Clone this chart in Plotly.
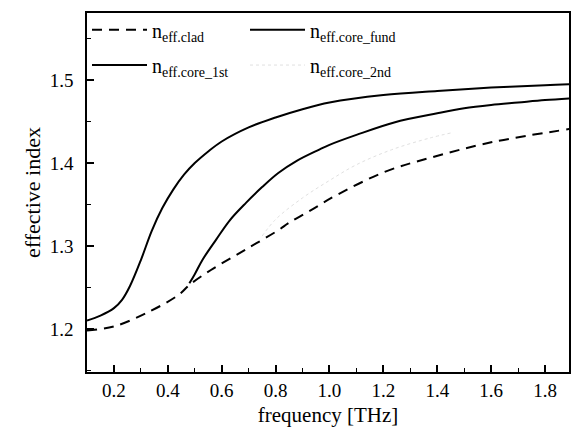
import plotly.graph_objects as go

# Cladding effective index
clad_x = [0.10, 0.20, 0.32, 0.44, 0.48, 0.56, 0.69, 0.81, 0.85, 0.93, 1.03, 1.21, 1.37, 1.60, 1.89]
clad_y = [1.198, 1.203, 1.219, 1.241, 1.253, 1.271, 1.296, 1.319, 1.328, 1.343, 1.362, 1.390, 1.406, 1.425, 1.441]

# Fundamental core mode
fund_x = [0.10, 0.15, 0.20, 0.23, 0.26, 0.30, 0.34, 0.38, 0.42, 0.46, 0.50, 0.55, 0.60, 0.70, 0.80, 0.90, 1.00, 1.20, 1.40, 1.60, 1.80, 1.89]
fund_y = [1.210, 1.216, 1.225, 1.235, 1.252, 1.283, 1.318, 1.346, 1.368, 1.386, 1.400, 1.414, 1.426, 1.443, 1.455, 1.465, 1.473, 1.482, 1.487, 1.491, 1.494, 1.495]

# First-order core mode
first_x = [0.48, 0.50, 0.53, 0.58, 0.63, 0.69, 0.75, 0.81, 0.88, 0.96, 1.00, 1.10, 1.24, 1.40, 1.50, 1.60, 1.70, 1.80, 1.89]
first_y = [1.255, 1.266, 1.284, 1.308, 1.331, 1.352, 1.371, 1.388, 1.403, 1.416, 1.422, 1.434, 1.449, 1.460, 1.466, 1.470, 1.473, 1.476, 1.478]

# Second-order core mode (very faint in the original)
second_x = [0.75, 0.80, 0.90, 1.00, 1.10, 1.23, 1.37, 1.46]
second_y = [1.312, 1.332, 1.358, 1.379, 1.398, 1.416, 1.430, 1.437]

FONT = "Liberation Serif"

fig = go.Figure()
fig.add_trace(go.Scatter(x=clad_x, y=clad_y, mode="lines", line_shape="spline",
                         line=dict(color="black", width=2, dash="10px,7px"),
                         name="n<sub>eff.clad</sub>", legend="legend"))
fig.add_trace(go.Scatter(x=fund_x, y=fund_y, mode="lines", line_shape="spline",
                         line=dict(color="black", width=2),
                         name="n<sub>eff.core_fund</sub>", legend="legend"))
fig.add_trace(go.Scatter(x=first_x, y=first_y, mode="lines", line_shape="spline",
                         line=dict(color="black", width=2),
                         name="n<sub>eff.core_1st</sub>", legend="legend2"))
fig.add_trace(go.Scatter(x=second_x, y=second_y, mode="lines", line_shape="spline",
                         line=dict(color="#e0e0e0", width=1, dash="dot"),
                         name="n<sub>eff.core_2nd</sub>", legend="legend2"))

legend_common = dict(orientation="h", xanchor="left", yanchor="middle",
                     font=dict(family=FONT, size=20, color="black"),
                     bgcolor="rgba(0,0,0,0)", itemwidth=55, entrywidth=88,
                     entrywidthmode="pixels", tracegroupgap=0)

fig.update_layout(
    width=572, height=436,
    margin=dict(l=87, r=1, t=13, b=64),
    paper_bgcolor="white", plot_bgcolor="white",
    font=dict(family=FONT, color="black"),
    legend=dict(x=0.0, y=0.953, **legend_common),
    legend2=dict(x=0.0, y=0.855, **legend_common),
    xaxis=dict(range=[0.1, 1.889], tickvals=[0.2, 0.4, 0.6, 0.8, 1.0, 1.2, 1.4, 1.6, 1.8],
               ticktext=["0.2", "0.4", "0.6", "0.8", "1.0", "1.2", "1.4", "1.6", "1.8"],
               ticks="inside", ticklen=7, tickwidth=1.5, tickcolor="black",
               minor=dict(dtick=0.1, tick0=0.1, ticks="inside", ticklen=4, tickwidth=1.2, tickcolor="black"),
               showline=True, linecolor="black", linewidth=1.5, mirror=True,
               showgrid=False, zeroline=False,
               tickfont=dict(family=FONT, size=19),
               title=dict(text="frequency [THz]", font=dict(family=FONT, size=21), standoff=8)),
    yaxis=dict(range=[1.148, 1.581], tickvals=[1.2, 1.3, 1.4, 1.5],
               ticktext=["1.2", "1.3", "1.4", "1.5"],
               ticks="inside", ticklen=7, tickwidth=1.5, tickcolor="black",
               ticklabelstandoff=8,
               minor=dict(dtick=0.05, tick0=1.15, ticks="inside", ticklen=4, tickwidth=1.2, tickcolor="black"),
               showline=True, linecolor="black", linewidth=1.5, mirror=True,
               showgrid=False, zeroline=False,
               tickfont=dict(family=FONT, size=19),
               title=dict(text="effective index", font=dict(family=FONT, size=22), standoff=3)),
)

fig.write_html("out.html")
